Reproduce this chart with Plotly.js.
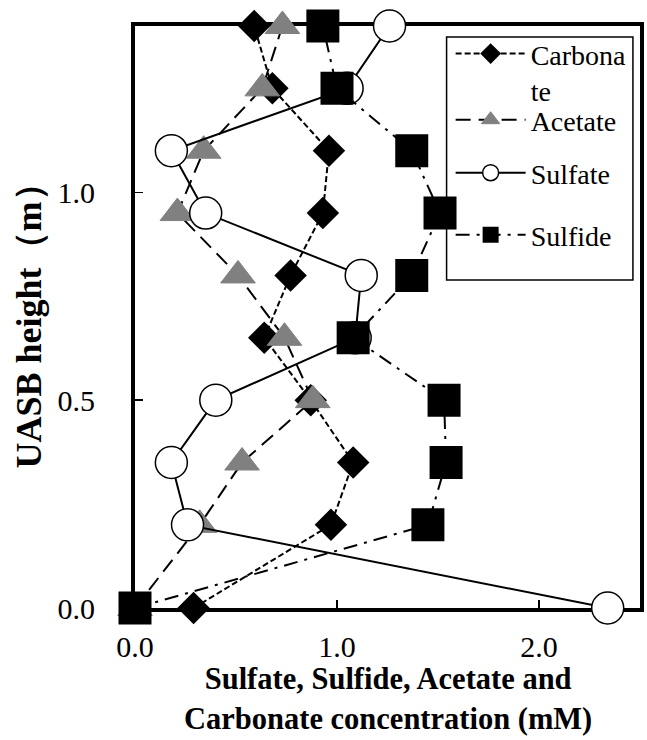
<!DOCTYPE html>
<html>
<head>
<meta charset="utf-8">
<script src="https://cdn.plot.ly/plotly-3.0.1.min.js"></script>
<style>
html,body{margin:0;padding:0;background:#fff;}
#chart{width:647px;height:740px;}
</style>
</head>
<body>
<div id="chart"></div>
<script>
// UASB height (m)
const heights = [0, 0.2, 0.35, 0.5, 0.65, 0.8, 0.95, 1.1, 1.25, 1.4];
// concentrations (mM)
const carbonate = [0.29, 0.97, 1.08, 0.87, 0.64, 0.77, 0.93, 0.96, 0.68, 0.59];
const acetate   = [0.00, 0.32, 0.53, 0.88, 0.74, 0.51, 0.21, 0.34, 0.63, 0.73];
const sulfate   = [2.34, 0.26, 0.18, 0.40, 1.09, 1.12, 0.35, 0.18, 1.05, 1.26];
const sulfide   = [0.00, 1.45, 1.54, 1.53, 1.08, 1.37, 1.51, 1.37, 1.00, 0.93];
const seriesNames = ['Carbona<br>te', 'Acetate', 'Sulfate', 'Sulfide'];
const xTickVals = [0, 1, 2];
const xTickText = ['0.0', '1.0', '2.0'];
const yTickVals = [0, 0.5, 1.0];
const yTickText = ['0.0', '0.5', '1.0'];
const xTitle = 'Sulfate, Sulfide, Acetate and<br>Carbonate concentration (mM)';
const yTitle = 'UASB height（m）';

const FONT = 'Liberation Serif';

const traces = [
  {x: carbonate, y: heights, name: seriesNames[0], legend: 'legend', mode: 'lines+markers',
   line: {color: '#000', width: 2, dash: '6px,3px'},
   marker: {symbol: 'diamond', size: 25, color: '#000', line: {width: 0}}},
  {x: acetate, y: heights, name: seriesNames[1], legend: 'legend2', mode: 'lines+markers',
   line: {color: '#000', width: 2, dash: '15px,8px'},
   marker: {symbol: 'triangle-up', size: 30, color: '#808080', line: {width: 1, color: '#808080'}}},
  {x: sulfate, y: heights, name: seriesNames[2], legend: 'legend3', mode: 'lines+markers',
   line: {color: '#000', width: 2},
   marker: {symbol: 'circle', size: 32, color: '#fff', line: {width: 1.5, color: '#000'}}},
  {x: sulfide, y: heights, name: seriesNames[3], legend: 'legend4', mode: 'lines+markers',
   line: {color: '#000', width: 2, dash: '14px,7px,3px,7px'},
   marker: {symbol: 'square', size: 33, color: '#000', line: {width: 0}}}
].map(t => Object.assign(t, {type: 'scatter', cliponaxis: false}));

function leg(y, yanchor) {
  return {
    x: 0.625, y: y, xanchor: 'left', yanchor: yanchor,
    bgcolor: 'rgba(0,0,0,0)', borderwidth: 0,
    font: {family: FONT, size: 28, color: '#000'},
    itemwidth: 70, valign: 'top'
  };
}

const layout = {
  width: 647, height: 740,
  margin: {l: 135, r: 7, t: 26, b: 132},
  paper_bgcolor: '#fff', plot_bgcolor: '#fff',
  font: {family: FONT, color: '#000', size: 30},
  showlegend: true,
  legend: leg(0.995, 'top'),
  legend2: leg(0.8385, 'middle'),
  legend3: leg(0.7474, 'middle'),
  legend4: leg(0.6409, 'middle'),
  xaxis: {
    range: [0, 2.5], tickvals: xTickVals, ticktext: xTickText,
    ticks: 'inside', ticklen: 8, tickwidth: 1.5, tickcolor: '#000',
    showline: true, linewidth: 4, linecolor: '#000', mirror: true,
    showgrid: false, zeroline: false, layer: 'below traces',
    tickfont: {family: FONT, size: 30}, ticklabelstandoff: 9
  },
  yaxis: {
    range: [0, 1.4], tickvals: yTickVals, ticktext: yTickText,
    ticks: 'inside', ticklen: 8, tickwidth: 1.5, tickcolor: '#000',
    showline: true, linewidth: 4, linecolor: '#000', mirror: true,
    showgrid: false, zeroline: false, layer: 'below traces',
    tickfont: {family: FONT, size: 30}, ticklabelstandoff: 30,
    title: {text: yTitle, font: {family: FONT, size: 36, weight: 'bold'}, standoff: 6}
  },
  annotations: [{
    text: xTitle, xref: 'paper', yref: 'paper', x: 0.5, y: -0.0893,
    xanchor: 'center', yanchor: 'top', showarrow: false, align: 'center',
    font: {family: FONT, size: 30.5, weight: 'bold', color: '#000'}
  }],
  shapes: [{
    type: 'rect', xref: 'paper', yref: 'paper', layer: 'below',
    x0: 0.617, x1: 0.986, y0: 0.5636, y1: 0.981,
    line: {color: '#000', width: 1.5}, fillcolor: 'rgba(0,0,0,0)'
  }]
};

Plotly.newPlot('chart', traces, layout, {displayModeBar: false, staticPlot: true});
</script>
</body>
</html>
